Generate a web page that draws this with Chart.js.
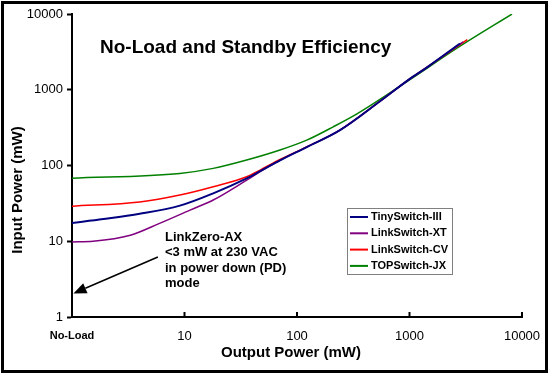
<!DOCTYPE html>
<html>
<head>
<meta charset="utf-8">
<script src="https://cdn.jsdelivr.net/npm/chart.js@4/dist/chart.umd.min.js"></script>
<style>
html, body { margin: 0; padding: 0; background: #fff; }
canvas { display: block; }
</style>
</head>
<body>
<canvas id="chart" width="550" height="375"></canvas>
<script>
const FONT = 'Arial, "Liberation Sans", sans-serif';

const seriesNames = ["TinySwitch-III", "LinkSwitch-XT", "LinkSwitch-CV", "TOPSwitch-JX"];
const seriesColors = ["#000080", "#800080", "#ff0000", "#008000"];

// output power (mW) / input power (mW)
const tinyOut = [1, 1.9, 4, 9.1, 18, 35.7, 47, 70.6, 122, 241, 547, 1000, 1422, 2812];
const tinyIn = [17.4, 19.6, 23, 29.5, 42.9, 67.6, 84, 117, 175, 293, 705, 1380, 1963, 4083];

const xtOut = [1, 1.54, 3.3, 6, 11.2, 18, 35.7, 47, 70.6, 122, 241, 547, 1000, 1422, 3000];
const xtIn = [9.8, 10, 12, 17.2, 25.8, 35, 64.2, 83, 117, 175, 293, 705, 1380, 1963, 4300];

const cvOut = [1, 4, 9.1, 18, 35.7, 47, 70.6, 122, 241, 547, 1000, 1422, 3265];
const cvIn = [29, 33, 40.7, 52.4, 71, 87, 120, 176, 294, 707, 1385, 1970, 4600];

const jxOut = [1, 9.1, 18, 35.7, 70.6, 122, 210, 341, 1000, 2812, 8150];
const jxIn = [68, 78.7, 91.6, 118, 160, 216, 324, 480, 1350, 3760, 10000];

const axisTicks = [1, 10, 100, 1000, 10000];
const xTickLabels = ["No-Load", "10", "100", "1000", "10000"];
const yTickLabels = ["1", "10", "100", "1000", "10000"];

const chartTitle = "No-Load and Standby Efficiency";
const xTitle = "Output Power (mW)";
const yTitle = "Input Power (mW)";
const noteLines = ["LinkZero-AX", "<3 mW at 230 VAC", "in power down (PD)", "mode"];
const arrowFrom = [5.8, 6.2];
const arrowTo = [1.03, 2.05];

function toPoints(xs, ys) {
    return xs.map((x, i) => ({ x: x, y: ys[i] }));
}

const seriesData = [
    toPoints(tinyOut, tinyIn),
    toPoints(xtOut, xtIn),
    toPoints(cvOut, cvIn),
    toPoints(jxOut, jxIn)
];

const decorations = {
    id: 'decorations',
    afterDraw(chart) {
        const { ctx, chartArea } = chart;
        const x = chart.scales.x, y = chart.scales.y;
        ctx.save();

        // outer frame
        ctx.strokeStyle = '#000';
        ctx.lineWidth = 3;
        ctx.strokeRect(2.5, 2.5, 544, 369);

        // x ticks point inward
        ctx.lineWidth = 2;
        axisTicks.forEach(v => {
            const px = x.getPixelForValue(v);
            ctx.beginPath();
            ctx.moveTo(px, chartArea.bottom);
            ctx.lineTo(px, chartArea.bottom - 5);
            ctx.stroke();
        });

        ctx.fillStyle = '#000';
        ctx.textBaseline = 'alphabetic';

        // title
        ctx.font = 'bold 19px ' + FONT;
        ctx.textAlign = 'left';
        ctx.fillText(chartTitle, 100, 53);

        // axis titles
        ctx.font = 'bold 15px ' + FONT;
        ctx.textAlign = 'center';
        ctx.textBaseline = 'middle';
        ctx.fillText(xTitle, 291, 353);
        ctx.save();
        ctx.translate(18, 190);
        ctx.rotate(-Math.PI / 2);
        ctx.fillText(yTitle, 0, 0);
        ctx.restore();

        // note
        ctx.font = 'bold 13px ' + FONT;
        ctx.textAlign = 'left';
        ctx.textBaseline = 'alphabetic';
        noteLines.forEach((t, i) => ctx.fillText(t, 165, 241 + i * 15.3));

        // arrow
        const x0 = x.getPixelForValue(arrowFrom[0]), y0 = y.getPixelForValue(arrowFrom[1]);
        const x1 = x.getPixelForValue(arrowTo[0]), y1 = y.getPixelForValue(arrowTo[1]);
        const ang = Math.atan2(y1 - y0, x1 - x0);
        const headLen = 13, headW = 5.5;
        const bx = x1 - headLen * Math.cos(ang), by = y1 - headLen * Math.sin(ang);
        ctx.lineWidth = 1.5;
        ctx.beginPath();
        ctx.moveTo(x0, y0);
        ctx.lineTo(bx, by);
        ctx.stroke();
        ctx.beginPath();
        ctx.moveTo(x1, y1);
        ctx.lineTo(bx + headW * Math.sin(ang), by - headW * Math.cos(ang));
        ctx.lineTo(bx - headW * Math.sin(ang), by + headW * Math.cos(ang));
        ctx.closePath();
        ctx.fill();

        // legend box
        const lx = 347, ly = 208, lw = 105, lh = 66;
        ctx.fillStyle = '#fff';
        ctx.fillRect(lx, ly, lw, lh);
        ctx.strokeStyle = '#808080';
        ctx.lineWidth = 1;
        ctx.strokeRect(lx + 0.5, ly + 0.5, lw, lh);
        ctx.font = 'bold 11px ' + FONT;
        ctx.textBaseline = 'middle';
        chart.data.datasets.forEach((ds, i) => {
            const ry = 217 + i * 16.3;
            ctx.strokeStyle = ds.borderColor;
            ctx.lineWidth = 2;
            ctx.beginPath();
            ctx.moveTo(350, ry);
            ctx.lineTo(368, ry);
            ctx.stroke();
            ctx.fillStyle = '#000';
            ctx.fillText(ds.label, 371, ry);
        });

        ctx.restore();
    }
};

new Chart(document.getElementById('chart'), {
    type: 'line',
    data: {
        datasets: seriesNames.map((name, i) => ({
            label: name,
            data: seriesData[i],
            borderColor: seriesColors[i],
            borderWidth: i === 0 ? 2 : 1.5,
            pointRadius: 0,
            fill: false,
            cubicInterpolationMode: 'monotone'
        }))
    },
    options: {
        responsive: false,
        animation: false,
        devicePixelRatio: 1,
        layout: { padding: { top: 14, right: 28, left: 0, bottom: 0 } },
        plugins: {
            legend: { display: false },
            tooltip: { enabled: false }
        },
        scales: {
            x: {
                type: 'logarithmic',
                min: 1,
                max: 10000,
                afterBuildTicks: s => { s.ticks = axisTicks.map(v => ({ value: v })); },
                afterFit: s => { s.height = 58; },
                border: { display: true, color: '#000', width: 2 },
                grid: { display: false },
                ticks: {
                    autoSkip: false,
                    maxRotation: 0,
                    padding: 4,
                    color: '#000',
                    callback: (v, i) => xTickLabels[i],
                    font: c => c.index === 0
                        ? { family: FONT, size: 11, weight: 'bold' }
                        : { family: FONT, size: 13 }
                }
            },
            y: {
                type: 'logarithmic',
                min: 1,
                max: 10000,
                afterBuildTicks: s => { s.ticks = axisTicks.map(v => ({ value: v })); },
                afterFit: s => { s.width = 72; },
                border: { display: true, color: '#000', width: 2 },
                grid: { drawOnChartArea: false, tickLength: 5, tickColor: '#000', tickWidth: 2 },
                ticks: {
                    autoSkip: false,
                    padding: 4,
                    color: '#000',
                    callback: (v, i) => yTickLabels[i],
                    font: { family: FONT, size: 13 }
                }
            }
        }
    },
    plugins: [decorations]
});
</script>
</body>
</html>
